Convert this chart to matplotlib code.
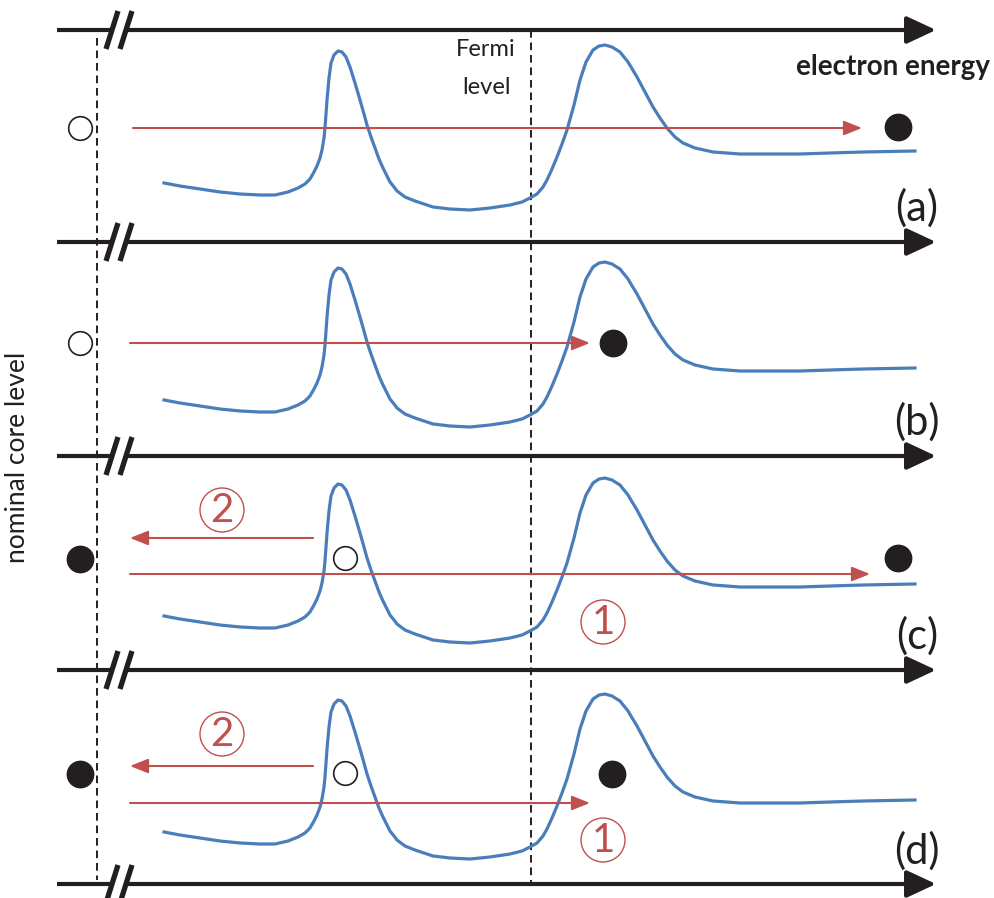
import numpy as np
import matplotlib
matplotlib.use('Agg')
import matplotlib.pyplot as plt
from matplotlib.patches import Circle

plt.rcParams['font.family'] = ['Lato', 'DejaVu Sans']
plt.rcParams['lines.scale_dashes'] = False

BLUE = '#4a7ebb'
RED = '#c0504d'

# spectrum shape of panel (a), in picture pixels
curve_x = [164, 180, 200, 220, 240, 260, 275, 288, 298, 305, 310, 314, 317, 320, 322,
           324, 325, 327, 329, 331, 334, 338, 342, 346, 350, 355, 360, 364, 367, 371,
           375, 379, 383, 387, 390, 394, 397, 405, 415, 433, 450, 470, 490, 510, 522,
           530, 537, 543, 547, 552, 557, 562, 567, 574, 580, 586, 593, 599, 605, 612,
           620, 628, 637, 645, 653, 660, 667, 675, 683, 695, 713, 740, 763, 800, 830,
           863, 915]
curve_y = [183, 186, 189, 192, 194, 195, 195, 192, 188, 184, 179, 172, 166, 158, 150,
           138, 128, 100, 78, 63, 55, 51, 52, 57, 67, 83, 100, 114, 125, 137,
           148, 159, 168, 176, 182, 187, 191, 197, 201, 207, 209, 210, 208, 205, 202,
           198, 194, 187, 180, 169, 157, 144, 130, 105, 80, 62, 50, 46, 45, 47,
           52, 62, 77, 92, 107, 118, 128, 137, 143, 148, 152, 154, 154, 154, 153,
           152, 151]
panel_shift = [0, 217, 433, 649]
panel_labels = ['(a)', '(b)', '(c)', '(d)']
label_y = [208, 422, 636, 851]

axis_y = [30, 242, 456, 670, 884]

# electron (filled) and hole (open) positions per panel
filled_x = [898, 613, 80, 898, 80, 612]
filled_y = [127, 343, 559, 558, 774, 774]
hollow_x = [80, 80, 345, 345]
hollow_y = [128, 343, 558, 773]

# red transitions: start x, end x, y
arrow_x0 = [133, 130, 130, 313, 130, 313]
arrow_x1 = [862, 590, 870, 130, 590, 130]
arrow_yy = [128, 343, 574, 538, 803, 766]

# circled step numbers
step_txt = ['2', '1', '2', '1']
step_x = [222, 603, 222, 603]
step_y = [510, 622, 734, 840]

fig = plt.figure(figsize=(9.94, 8.98), dpi=100)
ax = fig.add_axes([0, 0, 1, 1])
ax.set_xlim(0, 994)
ax.set_ylim(898, 0)
ax.axis('off')

# energy axes with break marks
for y in axis_y:
    ax.plot([57, 111], [y, y], color='#231f20', lw=3.0, solid_capstyle='butt')
    ax.annotate('', xy=(936, y), xytext=(128, y),
                arrowprops=dict(arrowstyle='-|>,head_length=0.9,head_width=0.42',
                                color='#231f20', lw=3.0, mutation_scale=20,
                                shrinkA=0, shrinkB=0))
    for bx in (106, 120):
        ax.plot([bx, bx + 12], [y + 19, y - 19], color='#231f20', lw=3.8,
                solid_capstyle='butt')

# dashed reference lines
ax.plot([97, 97], [38, 880], color='#231f20', lw=1.4, dashes=(5.5, 3.5))
ax.plot([531, 531], [30, 884], color='#231f20', lw=1.4, dashes=(5.5, 3.5))

# spectra
cx = np.array(curve_x)
cy = np.array(curve_y)
for k, s in enumerate(panel_shift):
    ax.plot(cx, cy + s, color=BLUE, lw=2.3, solid_joinstyle='round')
    ax.text(917, label_y[k], panel_labels[k], fontsize=30, ha='center', va='center',
            color='#231f20')

# transitions
for x0, x1, y in zip(arrow_x0, arrow_x1, arrow_yy):
    ax.annotate('', xy=(x1, y), xytext=(x0, y),
                arrowprops=dict(arrowstyle='-|>,head_length=0.55,head_width=0.22',
                                color=RED, lw=1.5, mutation_scale=20,
                                shrinkA=0, shrinkB=0))

ax.plot(filled_x, filled_y, 'o', color='#231f20', ms=19, ls='none')
ax.plot(hollow_x, hollow_y, 'o', mfc='white', mec='#231f20', mew=1.2, ms=17, ls='none')

for t, x, y in zip(step_txt, step_x, step_y):
    ax.add_patch(Circle((x, y), 22, fill=False, edgecolor=RED, lw=1.0))
    ax.text(x, y + 1, t, fontsize=29, color=RED, ha='center', va='center')

ax.text(990, 67, 'electron energy', fontsize=20, fontweight='bold', ha='right',
        va='center', color='#231f20')
ax.text(515, 50, 'Fermi', fontsize=17, ha='right', va='center', color='#231f20')
ax.text(511, 88, 'level', fontsize=17, ha='right', va='center', color='#231f20')
ax.text(18, 457, 'nominal core level', fontsize=19, rotation=90, ha='center',
        va='center', color='#231f20')

fig.savefig('out.png', dpi=100)
